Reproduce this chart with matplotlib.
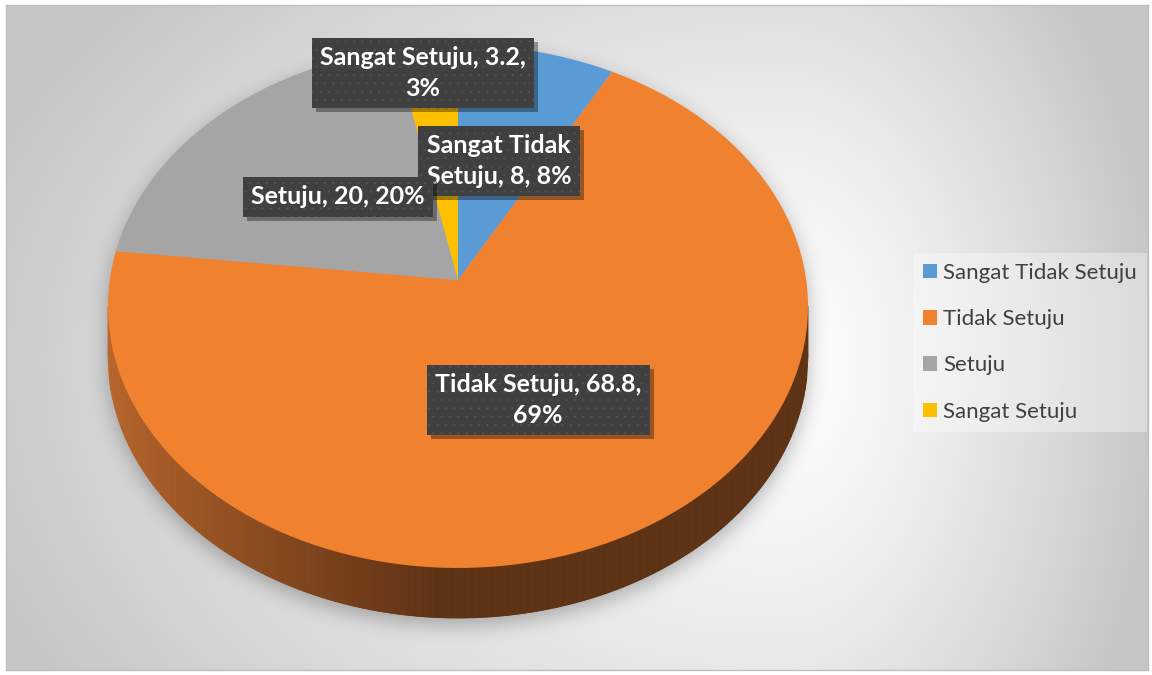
import numpy as np
import matplotlib
matplotlib.use('Agg')
import matplotlib.pyplot as plt
from matplotlib.transforms import Transform, Affine2D
from matplotlib.path import Path
from matplotlib.collections import PolyCollection
import matplotlib.patheffects as pe

# ---------------- data ----------------
categories = ['Sangat Tidak Setuju', 'Tidak Setuju', 'Setuju', 'Sangat Setuju']
values = [8, 68.8, 20, 3.2]
percent_labels = ['8%', '69%', '20%', '3%']
colors = ['#5b9bd5', '#f0812f', '#a5a5a5', '#ffc000']

W, H = 1152, 675
fig = plt.figure(figsize=(W / 100, H / 100), dpi=100)
fig.patch.set_facecolor('white')

# ---------------- geometry of the tilted pie ----------------
K = 0.1013              # perspective strength
CX, CY = 458.0, 280.0   # pixel position of pie centre
SX, SY = 348.2, 258.8   # pixel size of one data unit
T = 50.0 / SY           # pie thickness in data units


class Persp(Transform):
    input_dims = 2
    output_dims = 2
    is_separable = False
    has_inverse = False

    def __init__(self, k):
        super().__init__()
        self.k = k

    def transform_non_affine(self, values):
        v = np.asarray(values, dtype=float).reshape(-1, 2)
        w = 1.0 + self.k * v[:, 1]
        return np.column_stack([v[:, 0] / w, v[:, 1] / w])

    def transform_path_non_affine(self, path):
        polys = path.to_polygons(transform=Affine2D().scale(1000.0), closed_only=True)
        paths = [Path(self.transform_non_affine(np.asarray(p) / 1000.0), closed=True)
                 for p in polys]
        return Path.make_compound_path(*paths)


def face_bounds(xd):
    disc = K ** 2 - (1 - K ** 2) * (xd ** 2 - 1)
    ok = disc >= 0
    s = np.sqrt(np.clip(disc, 0, None))
    lo = (-K - s) / (1 - K ** 2)
    hi = (-K + s) / (1 - K ** 2)
    return lo, hi, ok


# ---------------- background ----------------
L, R, TOP, BOT = 6, 1148, 5, 670
bg = fig.add_axes([L / W, 1 - BOT / H, (R - L) / W, (BOT - TOP) / H])
xs = np.arange(L, R) + 0.5
ys = np.arange(TOP, BOT) + 0.5
PX, PY = np.meshgrid(xs, ys)
gcx, gcy = 780.0, 360.0
dx = np.where(PX > gcx, (PX - gcx) / 380.0, (PX - gcx) / 850.0)
dy = np.where(PY > gcy, (PY - gcy) / 620.0, (PY - gcy) / 560.0)
rr = np.clip(np.hypot(dx, dy), 0, 1)
val = (255 - 57 * rr ** 1.3) / 255.0

# soft shadow around pie body
xd = (PX - CX) / SX
yd = (CY - (PY - 7)) / SY
lo, hi, ok = face_bounds(xd)
mask = (ok & (yd >= lo - T) & (yd <= hi)).astype(float)


def blur(a, sigma):
    rad = int(3 * sigma)
    x = np.arange(-rad, rad + 1)
    kern = np.exp(-x ** 2 / (2.0 * sigma ** 2))
    kern /= kern.sum()
    a = np.apply_along_axis(lambda m: np.convolve(m, kern, mode='same'), 1, a)
    a = np.apply_along_axis(lambda m: np.convolve(m, kern, mode='same'), 0, a)
    return a


sh = blur(mask, 10.0)
val = val * (1 - 0.28 * sh)
img = np.dstack([val, val, val])
bg.imshow(img, extent=(L, R, BOT, TOP), aspect='auto', interpolation='bilinear')
bg.set_xlim(L, R)
bg.set_ylim(BOT, TOP)
bg.set_xticks([])
bg.set_yticks([])
for sp in bg.spines.values():
    sp.set_color('#bfbfbf')
    sp.set_linewidth(1.0)

# ---------------- pie axes ----------------
ax = fig.add_axes([0, 0, 1, 1])
ax.patch.set_alpha(0)

# side of the pie (front rim)
n = 500
xm = 1.0 / np.sqrt(1 - K ** 2)
xe = np.linspace(-xm, xm, n + 1)
elo, ehi, _ = face_bounds(xe)
etop = np.minimum(ehi, elo + 0.06)
light = np.array([186, 102, 44]) / 255.0
dark = np.array([94, 50, 20]) / 255.0
quads, qcols = [], []
for i in range(n):
    quads.append([(xe[i], elo[i] - T), (xe[i + 1], elo[i + 1] - T),
                  (xe[i + 1], etop[i + 1]), (xe[i], etop[i])])
    pxm = CX + SX * 0.5 * (xe[i] + xe[i + 1])
    t = np.clip((pxm - 108) / (440 - 108), 0, 1) ** 0.85
    qcols.append(light * (1 - t) + dark * t)
side = PolyCollection(quads, facecolors=qcols, edgecolors=qcols, linewidths=0.6,
                      zorder=1)
ax.add_collection(side)

wedges, _ = ax.pie(values, colors=colors, startangle=90, counterclock=False,
                   radius=1.0, wedgeprops=dict(linewidth=0, antialiased=True))
persp = Persp(K)
for w in wedges:
    w.set_transform(persp + ax.transData)
    w.set_zorder(2)

ax.set_aspect('auto')
ax.set_xlim(-CX / SX, (W - CX) / SX)
ax.set_ylim(-(H - CY) / SY, CY / SY)
ax.axis('off')

# ---------------- data labels ----------------
plt.rcParams['hatch.linewidth'] = 0.0
label_font = ['Lato', 'DejaVu Sans']
label_texts = [
    f'Sangat Tidak\nSetuju, {values[0]:g}, {percent_labels[0]}',
    f'{categories[1]}, {values[1]:g},\n{percent_labels[1]}',
    f'{categories[2]}, {values[2]:g}, {percent_labels[2]}',
    f'{categories[3]}, {values[3]:g},\n{percent_labels[3]}',
]
label_pos = [(499, 161), (538, 400), (338, 197), (423, 73)]
for i, (s, (lx, ly)) in enumerate(zip(label_texts, label_pos)):
    t = fig.text(lx / W, 1 - ly / H, s, ha='center', va='center',
                 multialignment='center', color='white', fontsize=18,
                 fontweight='bold', family=label_font, linespacing=1.38,
                 zorder=5 + i,
                 bbox=dict(boxstyle='square,pad=0.33', facecolor='#404040',
                           edgecolor='#5a5a5a', linewidth=0, hatch='..'))
    t.get_bbox_patch().set_path_effects([
        pe.SimplePatchShadow(offset=(3, -3), shadow_rgbFace='black', alpha=0.35),
        pe.Normal()])

# ---------------- legend ----------------
leg = fig.legend(wedges, categories, loc='upper left',
                 bbox_to_anchor=(913 / W, 1 - 253 / H), frameon=True,
                 prop=dict(family=['Lato', 'DejaVu Sans'], size=16),
                 handlelength=0.62, handleheight=0.62, handletextpad=0.3,
                 labelspacing=1.18, borderpad=0.45, borderaxespad=0,
                 fancybox=False,
                 facecolor='white', framealpha=0.35, edgecolor='none')
for txt in leg.get_texts():
    txt.set_color('#404040')

fig.savefig('out.png', dpi=100)
